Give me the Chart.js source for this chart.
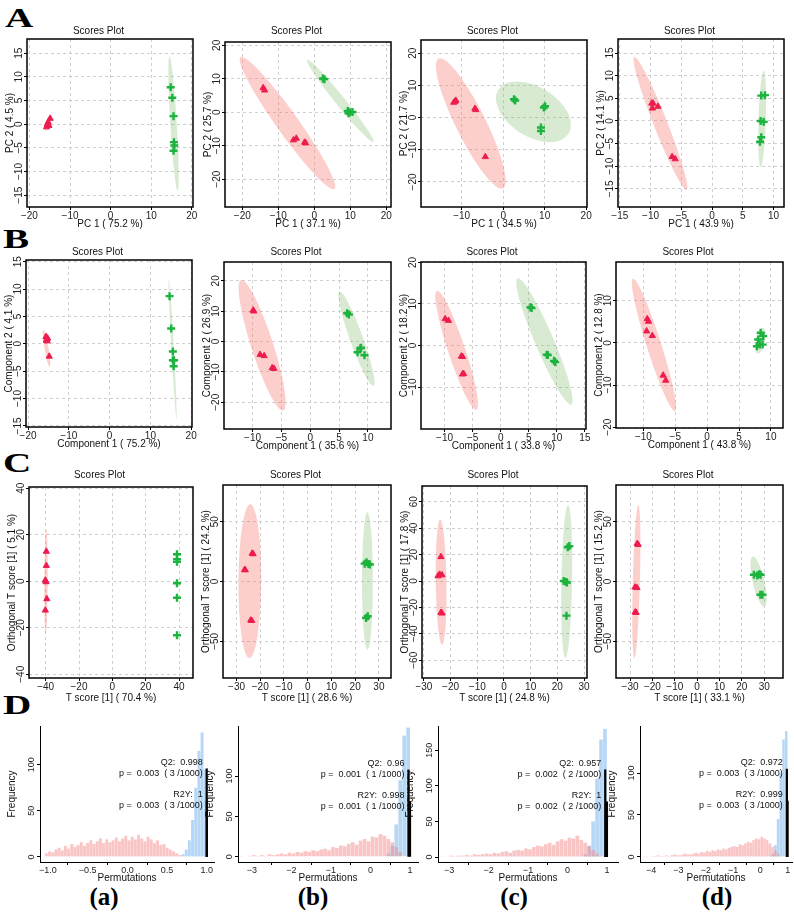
<!DOCTYPE html>
<html><head><meta charset="utf-8">
<script src="https://cdn.jsdelivr.net/npm/chart.js@4.4.1/dist/chart.umd.min.js"></script>
<style>
html,body{margin:0;padding:0;background:#fff}
#page{position:relative;width:794px;height:914px;overflow:hidden;background:#fff}
canvas{position:absolute}
.big{position:absolute;font-family:"Liberation Serif","Times New Roman",serif;font-weight:bold;color:#000;line-height:1;white-space:nowrap}
.row{font-size:27px;transform:scaleX(1.45);transform-origin:left top}
.sub{font-size:25px;width:60px;text-align:center}
</style></head><body><div id="page">
<div class="big row" style="left:5px;top:5px">A</div>
<div class="big row" style="left:3px;top:226px">B</div>
<div class="big row" style="left:3px;top:450px">C</div>
<div class="big row" style="left:3px;top:692px">D</div>
<div class="big sub" style="left:74px;top:884px">(a)</div>
<div class="big sub" style="left:283px;top:884px">(b)</div>
<div class="big sub" style="left:484px;top:884px">(c)</div>
<div class="big sub" style="left:687px;top:884px">(d)</div>
</div>
<script>
// ---------------- DATA ----------------
// Row A : PCA scores  [x, y]
const A1_red   = [[-14.9,1.2],[-15.4,0.4],[-15.6,-0.1],[-15.2,-0.3],[-15.8,-0.6],[-15.5,0.1]];
const A1_green = [[14.8,7.8],[15.2,5.6],[15.5,1.7],[15.6,-3.8],[15.7,-4.5],[15.5,-5.6]];
const A2_red   = [[-14.2,7.3],[-13.8,6.6],[-5.8,-8.3],[-5.0,-7.8],[-2.7,-9.0],[-2.4,-9.2]];
const A2_green = [[2.4,10.1],[2.8,9.9],[9.3,0.4],[9.5,-0.3],[10.6,0.1],[9.8,0.0]];
const A3_red   = [[-11.9,4.7],[-11.4,5.3],[-11.6,5.0],[-6.8,2.8],[-6.6,2.4],[-4.3,-12.2]];
const A3_green = [[2.6,5.7],[2.9,5.3],[10.1,3.5],[9.8,3.1],[9.1,-3.1],[9.1,-4.2]];
const A4_red   = [[-9.8,3.9],[-9.6,3.9],[-8.8,3.2],[-9.7,2.8],[-6.5,-7.9],[-6.0,-8.4]];
const A4_green = [[8.0,5.6],[8.6,5.7],[7.9,0.0],[8.4,-0.2],[8.0,-3.6],[7.8,-4.6]];
// Row B : PLS-DA scores
const B1_red   = [[-15.6,1.3],[-15.5,0.6],[-15.2,1.0],[-15.4,0.9],[-15.3,0.5],[-14.8,-2.3]];
const B1_green = [[14.7,8.7],[15.1,2.8],[15.5,-1.4],[15.5,-3.0],[15.8,-3.0],[15.7,-4.1]];
const B2_red   = [[-9.9,10.3],[-9.8,10.0],[-8.7,-4.3],[-8.0,-4.7],[-6.6,-8.7],[-6.3,-8.9]];
const B2_green = [[6.4,9.3],[6.7,8.9],[8.7,-2.2],[8.2,-3.5],[9.4,-4.5],[8.8,-2.0]];
const B3_red   = [[-9.9,6.4],[-9.3,6.0],[-7.0,-2.6],[-6.8,-2.7],[-6.8,-6.9],[-6.6,-6.8]];
const B3_green = [[5.3,9.2],[5.5,9.0],[8.2,-2.2],[8.4,-2.3],[9.5,-3.7],[9.7,-4.0]];
const B4_red   = [[-9.4,5.7],[-9.2,5.1],[-9.5,2.8],[-8.6,1.7],[-6.9,-7.7],[-6.5,-8.9]];
const B4_green = [[8.4,2.4],[8.8,1.6],[8.0,0.8],[8.25,-0.4],[7.8,-0.8],[8.7,-0.4]];
// Row C : OPLS-DA scores
const C1_red   = [[-39.6,12.8],[-39.6,6.7],[-40.2,0.4],[-39.8,-0.3],[-39.3,-7.6],[-40.2,-12.5]];
const C1_green = [[38.8,11.6],[38.8,9.5],[38.8,8.4],[38.8,-0.9],[38.8,-7.1],[38.8,-23.2]];
const C2_red   = [[-23.4,23.5],[-23.0,23.0],[-26.6,9.8],[-26.3,9.6],[-24.0,-32.3],[-23.6,-32.7]];
const C2_green = [[24.0,14.9],[24.8,16.0],[25.6,14.6],[26.2,14.2],[25.3,-29.0],[24.6,-30.5]];
const C3_red   = [[-23.6,18.3],[-24.1,5.0],[-23.2,4.5],[-24.7,3.8],[-23.2,-24.4],[-23.6,-23.9]];
const C3_green = [[23.9,25.6],[24.5,26.4],[22.4,0.0],[23.3,-0.8],[23.6,-1.2],[23.4,-26.2]];
const C4_red   = [[-26.8,31.6],[-26.4,30.8],[-27.8,-4.8],[-26.9,-5.2],[-27.7,-25.6],[-27.3,-26.0]];
const C4_green = [[25.4,5.6],[26.9,5.0],[27.7,6.1],[28.4,5.6],[28.3,-11.1],[29.2,-11.1]];
// 95% confidence ellipses: [centerX, centerY, axis1X, axis1Y, axis2X, axis2Y] (data units)
const A1_redEll = [-15.4,0.2,0.5,1.6,0.7,0],    A1_greenEll = [15.5,0.1,-1.0,14.2,0.8,0];
const A2_redEll = [-7.45,-3.25,-12.75,19.75,3.7,0], A2_greenEll = [7.2,3.4,-9.1,12.3,1.7,0];
const A3_redEll = [-7.8,-1.85,-7.4,20.25,4.0,0], A3_greenEll = [7.3,1.8,8.5,-6.75,-3.1,-6.6];
const A4_redEll = [-8.4,-0.55,-4.2,14.65,1.2,0], A4_greenEll = [8.15,0.5,0.25,10.65,0.6,0];
const B1_redEll = [-15.45,-0.85,-0.75,3.4,0.5,0], B1_greenEll = [15.45,-0.95,-0.95,12.85,0.3,0];
const B2_redEll = [-8.35,-1.2,-3.55,21.5,2.0,0], B2_greenEll = [8.0,0.95,-2.9,15.55,1.2,0];
const B3_redEll = [-7.85,-1.15,-3.45,14.35,1.6,0], B3_greenEll = [7.8,0.95,-4.7,15.25,1.8,0];
const B4_redEll = [-8.35,-0.5,-3.25,15.7,1.2,0], B4_greenEll = [8.35,0.55,0.35,3.05,0.75,0];
const C1_redEll = [-39.8,0,0.2,22.3,1.0,0],     C1_greenEll = null;
const C2_redEll = [-24.4,0.25,0.2,64.2,4.8,0],  C2_greenEll = [25.15,0.4,0,57.4,2.3,0];
const C3_redEll = [-23.55,-0.85,-0.35,47.35,2.0,0], C3_greenEll = [23.5,-0.5,0.5,57.8,2.0,0];
const C4_redEll = [-27.2,0,0.9,63.9,1.6,0],     C4_greenEll = [27.45,0,-2.45,20.8,2.7,0];
// tick values
const T20 = [-20,-10,0,10,20], T15 = [-15,-10,-5,0,5,10,15], T30 = [-30,-20,-10,0,10,20,30];
// Row D : permutation histograms (counts per bin; bins on a common grid per panel)
const Da_w = 0.04, Da_pinkStart = -1.04;
const Da_pink = [4,6,5,8,10,7,12,9,14,11,13,16,12,15,18,14,17,20,15,19,16,18,21,17,20,23,18,22,19,24,20,17,22,19,15,18,13,14,10,8,6,4,2];
const Da_blueStart = 0.68, Da_blue = [3,8,18,40,75,115,135,95];
const Da_obs = [[0.998,96],[1.0,61]];
const Db_w = 0.1, Db_pinkStart = -3.4;
const Db_pink = [1,1,0,1,2,1,2,1,3,2,3,4,3,5,4,6,5,7,6,8,7,9,10,8,12,11,14,13,16,18,15,20,22,19,25,24,28,26,22,18,12,6];
const Db_blueStart = 0.4, Db_blue = [4,14,40,95,150,160];
const Db_obs = [[0.96,108],[0.998,69]];
const Dc_w = 0.1, Dc_pinkStart = -3.4;
const Dc_pink = [1,1,1,0,2,1,2,2,3,2,4,3,4,5,4,6,5,7,8,6,9,10,9,12,11,14,16,15,18,20,17,22,25,23,27,26,30,24,20,15,10,5];
const Dc_blueStart = 0.4, Dc_blue = [4,16,50,110,165,180];
const Dc_obs = [[0.957,123],[1.0,78]];
const Dd_w = 0.1, Dd_pinkStart = -4.3;
const Dd_pink = [1,1,0,1,1,2,1,1,2,1,2,3,2,2,3,4,3,3,4,5,4,6,5,7,6,8,7,9,8,10,9,11,12,13,12,15,14,16,18,17,20,22,21,24,22,20,16,12,8,4];
const Dd_blueStart = 0.4, Dd_blue = [4,14,45,100,140,150];
const Dd_obs = [[0.972,105],[0.999,67]];
const Da_text = [['Q2:  0.998','p =  0.003  ( 3 /1000)'],['R2Y:  1','p =  0.003  ( 3 /1000)']];
const Db_text = [['Q2:  0.96','p =  0.001  ( 1 /1000)'],['R2Y:  0.998','p =  0.001  ( 1 /1000)']];
const Dc_text = [['Q2:  0.957','p =  0.002  ( 2 /1000)'],['R2Y:  1','p =  0.002  ( 2 /1000)']];
const Dd_text = [['Q2:  0.972','p =  0.003  ( 3 /1000)'],['R2Y:  0.999','p =  0.003  ( 3 /1000)']];

// ---------------- STYLE / HELPERS ----------------
const FONT = '"Liberation Sans", Arial, Helvetica, sans-serif';
const RED = '#EE1C4E', GREEN = '#1DB33F';
const RED_FILL = 'rgba(245,110,100,0.33)', GREEN_FILL = 'rgba(125,190,105,0.30)';
const fmt = v => String(v).replace('-', '\u2212');
const page = document.getElementById('page');

function makeCanvas(left, top, w, h){
  const c = document.createElement('canvas');
  c.width = w; c.height = h;
  c.style.left = left + 'px'; c.style.top = top + 'px';
  c.style.width = w + 'px'; c.style.height = h + 'px';
  page.appendChild(c);
  return c;
}
function ellPlugin(list){
  return {id:'ell', beforeDatasetsDraw(chart){
    const xs = chart.scales.x, ys = chart.scales.y, ctx = chart.ctx, ca = chart.chartArea;
    ctx.save(); ctx.beginPath(); ctx.rect(ca.left, ca.top, ca.width, ca.height); ctx.clip();
    for (const [e, col] of list){
      if (!e) continue;
      const [cx,cy,ux,uy,vx,vy] = e;
      const px = xs.getPixelForValue(cx), py = ys.getPixelForValue(cy);
      const ax = xs.getPixelForValue(cx+ux)-px, ay = ys.getPixelForValue(cy+uy)-py;
      const bx = xs.getPixelForValue(cx+vx)-px, by = ys.getPixelForValue(cy+vy)-py;
      ctx.save(); ctx.transform(ax, ay, bx, by, px, py);
      ctx.beginPath(); ctx.arc(0,0,1,0,Math.PI*2); ctx.restore();
      ctx.fillStyle = col; ctx.fill();
    }
    ctx.restore();
  }};
}
const framePlugin = {id:'frame', afterDatasetsDraw(chart){
  const ca = chart.chartArea, ctx = chart.ctx;
  ctx.save(); ctx.strokeStyle = '#000'; ctx.lineWidth = 1.5;
  ctx.strokeRect(ca.left, ca.top, ca.width, ca.height); ctx.restore();
}};
function yLabelPlugin(off, size){
  return {id:'ylab', afterDraw(chart){
    const s = chart.scales.y, ctx = chart.ctx, ca = chart.chartArea;
    ctx.save(); ctx.font = size + 'px ' + FONT; ctx.fillStyle = '#222';
    ctx.textAlign = 'center'; ctx.textBaseline = 'middle';
    for (const t of s.ticks){
      const y = s.getPixelForValue(t.value);
      ctx.save(); ctx.translate(ca.left - off, y); ctx.rotate(-Math.PI/2);
      ctx.fillText(fmt(t.value), 0, 0); ctx.restore();
    }
    ctx.restore();
  }};
}
const pts = arr => arr.map(([x,y]) => ({x, y}));

// ---------------- SCATTER PANELS ----------------
const scatterPanels = [
  {f:[27,39,193,207], d:8, xh:23, xr:[-20.6,20.3], yr:[-17.5,18.0], xt:T20, yt:T15, xl:'PC 1 ( 75.2 %)', yl:'PC 2 ( 4.5 %)', r:A1_red, g:A1_green, er:A1_redEll, eg:A1_greenEll},
  {f:[225,42,391,207], d:11, xh:23, xr:[-24.8,21.3], yr:[-28.3,21.0], xt:T20, yt:T20, xl:'PC 1 ( 37.1 %)', yl:'PC 2 ( 25.7 %)', r:A2_red, g:A2_green, er:A2_redEll, eg:A2_greenEll},
  {f:[421,40,587,207], d:9, xh:23, xr:[-19.8,20.2], yr:[-27.8,24.1], xt:[-10,0,10,20], yt:T20, xl:'PC 1 ( 34.5 %)', yl:'PC 2 ( 21.7 %)', r:A3_red, g:A3_green, er:A3_redEll, eg:A3_greenEll},
  {f:[618,39,784,207], d:8, xh:23, xr:[-15.3,11.7], yr:[-19.0,18.1], xt:[-15,-10,-5,0,5,10], yt:T15, xl:'PC 1 ( 43.9 %)', yl:'PC 2 ( 14.1 %)', r:A4_red, g:A4_green, er:A4_redEll, eg:A4_greenEll},
  {f:[26,260,192,427], d:8, xh:23, xr:[-20.5,20.2], yr:[-15.2,15.3], xt:T20, yt:T15, xl:'Component 1 ( 75.2 %)', yl:'Component 2 ( 4.1 %)', r:B1_red, g:B1_green, er:B1_redEll, eg:B1_greenEll},
  {f:[224,262,391,429], d:10, xh:23, xr:[-14.96,14.0], yr:[-28.8,26.2], xt:[-10,-5,0,5,10], yt:T20, xl:'Component 1 ( 35.6 %)', yl:'Component 2 ( 26.9 %)', r:B2_red, g:B2_green, er:B2_redEll, eg:B2_greenEll},
  {f:[421,262,586,429], d:10, xh:23, xr:[-14.2,15.2], yr:[-20.1,20.1], xt:[-10,-5,0,5,10,15], yt:[-10,0,10,20], xl:'Component 1 ( 33.8 %)', yl:'Component 2 ( 18.2 %)', r:B3_red, g:B3_green, er:B3_redEll, eg:B3_greenEll},
  {f:[616,262,783,428], d:10, xh:23, xr:[-14.3,11.9], yr:[-20.2,19.2], xt:[-10,-5,0,5,10], yt:[-20,-10,0,10], xl:'Component 1 ( 43.8 %)', yl:'Component 2 ( 12.8 %)', r:B4_red, g:B4_green, er:B4_redEll, eg:B4_greenEll},
  {f:[29,487,193,678], d:12, xh:26, xr:[-50,48.4], yr:[-41.6,40.5], xt:[-40,-20,0,20,40], yt:[-40,-20,0,20,40], xl:'T score [1] ( 70.4 %)', yl:'Orthogonal T score [1] ( 5.1 %)', r:C1_red, g:C1_green, er:C1_redEll, eg:C1_greenEll},
  {f:[223,485,391,678], d:10, xh:26, xr:[-35.7,35.1], yr:[-80.6,80.6], xt:T30, yt:[-50,0,50], xl:'T score [1] ( 28.6 %)', yl:'Orthogonal T score [1] ( 24.2 %)', r:C2_red, g:C2_green, er:C2_redEll, eg:C2_greenEll},
  {f:[422,486,587,678], d:11, xh:26, xr:[-30.7,31.1], yr:[-73.4,71.9], xt:T30, yt:[-60,-40,-20,0,20,40,60], xl:'T score [1] ( 24.8 %)', yl:'Orthogonal T score [1] ( 17.8 %)', r:C3_red, g:C3_green, er:C3_redEll, eg:C3_greenEll},
  {f:[616,485,783,678], d:10, xh:26, xr:[-36.3,38.4], yr:[-80.6,80.6], xt:T30, yt:[-50,0,50], xl:'T score [1] ( 33.1 %)', yl:'Orthogonal T score [1] ( 15.2 %)', r:C4_red, g:C4_green, er:C4_redEll, eg:C4_greenEll}
];

for (const p of scatterPanels){
  const [L,T,R,B] = p.f;
  const YW = 23, XH = p.xh, RP = 10;
  const top = T - p.d - 8;
  const pb = p.d - 6;
  const cv = makeCanvas(L - YW, top, YW + (R-L) + RP, (T-top) + (B-T) + XH);
  new Chart(cv, {
    type:'scatter',
    data:{datasets:[
      {data:pts(p.r), pointStyle:'triangle', radius:3.6, backgroundColor:RED, borderColor:RED, borderWidth:1},
      {data:pts(p.g), pointStyle:'cross', radius:4, borderColor:GREEN, backgroundColor:GREEN, borderWidth:2.4}
    ]},
    options:{
      responsive:false, animation:false, devicePixelRatio:1,
      layout:{padding:{left:0, right:RP, top:0, bottom:0}},
      plugins:{legend:{display:false}, tooltip:{enabled:false},
        title:{display:true, text:'Scores Plot', color:'#111', font:{family:FONT, size:10, weight:'normal', lineHeight:1.2}, padding:{top:2, bottom:pb}}},
      scales:{
        x:{type:'linear', min:p.xr[0], max:p.xr[1],
          afterBuildTicks:s => { s.ticks = p.xt.map(v => ({value:v})); },
          afterFit:s => { s.height = XH; s.paddingLeft = 0; s.paddingRight = 0; },
          ticks:{color:'#222', font:{family:FONT, size:10}, padding:0, maxRotation:0, autoSkip:false, callback:v => fmt(v)},
          grid:{color:'#cfcfcf', lineWidth:1, tickColor:'#000', tickLength:3, drawTicks:true},
          border:{display:false, dash:[3,3]},
          title:{display:true, text:p.xl, color:'#111', font:{family:FONT, size:10}, padding:{top:0, bottom:0}}
        },
        y:{type:'linear', min:p.yr[0], max:p.yr[1],
          afterBuildTicks:s => { s.ticks = p.yt.map(v => ({value:v})); },
          afterFit:s => { s.width = YW; s.paddingTop = 0; s.paddingBottom = 0; },
          ticks:{display:false},
          grid:{color:'#cfcfcf', lineWidth:1, tickColor:'#000', tickLength:3, drawTicks:true},
          border:{display:false, dash:[3,3]},
          title:{display:true, text:p.yl, color:'#111', font:{family:FONT, size:10}, padding:{top:0, bottom:0}}
        }
      }
    },
    plugins:[ellPlugin([[p.er, RED_FILL],[p.eg, GREEN_FILL]]), framePlugin, yLabelPlugin(8, 10)]
  });
}

// ---------------- PERMUTATION PANELS ----------------
const PINK = 'rgba(245,140,140,0.5)', BLUE = 'rgba(110,175,235,0.5)';
const r6 = v => Math.round(v*1e6)/1e6;
function bins(start, w, counts){ return counts.map((c,i) => ({x: r6(start + w*(i+0.5)), y: c})); }
const permPanels = [
  {f:[40,726,214,862], xr:[-1.10,1.09], yr:[-5.5,142], xt:[-1,-0.5,0,0.5,1], dec:1, yt:[0,50,100], w:Da_w, ps:Da_pinkStart, pc:Da_pink, bs:Da_blueStart, bc:Da_blue, obs:Da_obs, txt:Da_text},
  {f:[238,726,418,862], xr:[-3.35,1.2], yr:[-6.5,162], xt:[-3,-2,-1,0,1], dec:0, yt:[0,50,100], w:Db_w, ps:Db_pinkStart, pc:Db_pink, bs:Db_blueStart, bc:Db_blue, obs:Db_obs, txt:Db_text},
  {f:[438,726,618,862], xr:[-3.28,1.28], yr:[-7,184], xt:[-3,-2,-1,0,1], dec:0, yt:[0,50,100,150], w:Dc_w, ps:Dc_pinkStart, pc:Dc_pink, bs:Dc_blueStart, bc:Dc_blue, obs:Dc_obs, txt:Dc_text},
  {f:[640,726,792,862], xr:[-4.41,1.16], yr:[-6,156], xt:[-4,-3,-2,-1,0,1], dec:0, yt:[0,50,100], w:Dd_w, ps:Dd_pinkStart, pc:Dd_pink, bs:Dd_blueStart, bc:Dd_blue, obs:Dd_obs, txt:Dd_text}
];
function obsPlugin(p){
  return {id:'obs', afterDatasetsDraw(chart){
    const xs = chart.scales.x, ys = chart.scales.y, ctx = chart.ctx;
    ctx.save(); ctx.strokeStyle = '#000'; ctx.lineWidth = 2.2;
    p.obs.forEach(([x,h]) => {
      const px = xs.getPixelForValue(x);
      ctx.beginPath(); ctx.moveTo(px, ys.getPixelForValue(h)); ctx.lineTo(px, ys.getPixelForValue(0)); ctx.stroke();
    });
    ctx.fillStyle = '#111'; ctx.font = '9px ' + FONT; ctx.textAlign = 'right'; ctx.textBaseline = 'middle';
    p.obs.forEach(([x,h], i) => {
      const px = xs.getPixelForValue(p.obs[0][0]) - 4, py = ys.getPixelForValue(h);
      ctx.fillText(p.txt[i][0], px, py - 6);
      ctx.fillText(p.txt[i][1], px, py + 5);
    });
    ctx.restore();
  }};
}
for (const p of permPanels){
  const [L,T,R,B] = p.f;
  const YW = 34, XH = 22, TP = 4, RP = 4;
  const cv = makeCanvas(L - YW, T - TP, YW + (R-L) + RP, TP + (B-T) + XH);
  new Chart(cv, {
    type:'bar',
    data:{datasets:[
      {data:bins(p.ps, p.w, p.pc), backgroundColor:PINK, grouped:false, barPercentage:0.92, categoryPercentage:1},
      {data:bins(p.bs, p.w, p.bc), backgroundColor:BLUE, grouped:false, barPercentage:0.92, categoryPercentage:1}
    ]},
    options:{
      responsive:false, animation:false, devicePixelRatio:1,
      layout:{padding:{left:0, right:RP, top:TP, bottom:0}},
      plugins:{legend:{display:false}, tooltip:{enabled:false}},
      scales:{
        x:{type:'linear', min:p.xr[0], max:p.xr[1], offset:false,
          afterBuildTicks:s => { s.ticks = p.xt.map(v => ({value:v})); },
          afterFit:s => { s.height = XH; s.paddingLeft = 0; s.paddingRight = 0; },
          ticks:{color:'#222', font:{family:FONT, size:9}, padding:0, maxRotation:0, autoSkip:false, callback:v => fmt(v.toFixed(p.dec))},
          grid:{drawOnChartArea:false, tickColor:'#000', tickLength:3},
          border:{display:true, color:'#000', width:1},
          title:{display:true, text:'Permutations', color:'#111', font:{family:FONT, size:10}, padding:{top:0, bottom:0}}
        },
        y:{type:'linear', min:p.yr[0], max:p.yr[1],
          afterBuildTicks:s => { s.ticks = p.yt.map(v => ({value:v})); },
          afterFit:s => { s.width = YW; s.paddingTop = 0; s.paddingBottom = 0; },
          ticks:{display:false},
          grid:{drawOnChartArea:false, tickColor:'#000', tickLength:3},
          border:{display:true, color:'#000', width:1},
          title:{display:true, text:'Frequency', color:'#111', font:{family:FONT, size:10}, padding:{top:0, bottom:0}}
        }
      }
    },
    plugins:[obsPlugin(p), yLabelPlugin(8, 9)]
  });
}
</script></body></html>
